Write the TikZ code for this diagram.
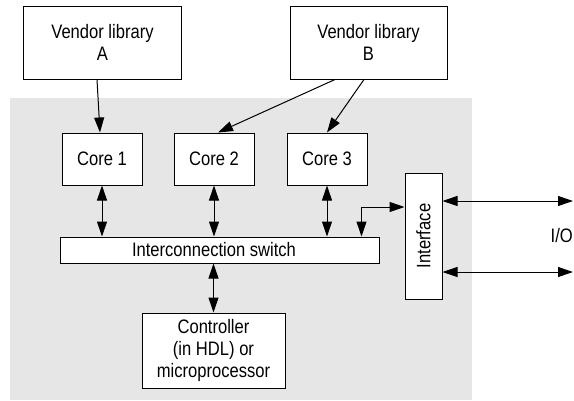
\documentclass[tikz,border=0pt]{standalone}
\usepackage{fontspec}
\setmainfont[FakeStretch=0.85]{Liberation Sans}
\usetikzlibrary{arrows.meta}
\definecolor{chipgray}{RGB}{230,230,230}
\tikzset{
  lbl/.style={font=\fontsize{19.5}{22}\selectfont},
  box/.style={draw, line width=1pt, fill=white, inner sep=0pt, align=center, lbl},
  arr/.style={line width=1pt, -{Triangle[length=15pt,width=10pt]}},
  biarr/.style={line width=1pt, {Triangle[length=15pt,width=10pt]}-{Triangle[length=15pt,width=10pt]}}
}
\begin{document}
\begin{tikzpicture}[x=1pt,y=-1pt]
\useasboundingbox (0,0) rectangle (574,400);
% chip area
\fill[chipgray] (10,98) rectangle (472,400);

% vendor libraries
\node[box, minimum width=157.5pt, minimum height=73pt] (va) at (102.5,42.5) {Vendor library\\A};
\node[box, minimum width=157pt, minimum height=73pt] (vb) at (368.5,42.5) {Vendor library\\B};

% cores
\node[box, minimum width=80pt, minimum height=52pt] (c1) at (102,159) {Core 1};
\node[box, minimum width=80pt, minimum height=52pt] (c2) at (214,159) {Core 2};
\node[box, minimum width=80pt, minimum height=52pt] (c3) at (327,159) {Core 3};

% switch, controller, interface
\node[box, minimum width=319pt, minimum height=26pt] (sw) at (219.5,250) {};
\node[lbl, inner sep=0pt] (swt) at (214,250) {Interconnection switch};
\node[box, minimum width=143pt, minimum height=75pt] (ctl) at (213.5,350.5) {Controller\\(in HDL) or\\microprocessor};
\node[box, minimum width=37pt, minimum height=126pt] (ifc) at (423.5,236) {};
\node[rotate=90, lbl, inner sep=0pt] (ift) at (ifc.center) {Interface};

% I/O ends
\coordinate (io1) at (573,201);
\coordinate (io2) at (573,272);
\node[anchor=east, lbl, inner sep=0pt] (io) at (573,236) {I/O};

% library links
\draw[arr] ([xshift=-5.5pt]va.south) -- ([xshift=-2pt]c1.north);
\draw[arr] ([xshift=-33.5pt]vb.south) -- ([xshift=4pt]c2.north);
\draw[arr] ([xshift=-4.5pt]vb.south) -- (c3.north);

% bus links
\draw[biarr] (c1.south) -- (c1.south |- sw.north);
\draw[biarr] (c2.south) -- (c2.south |- sw.north);
\draw[biarr] (c3.south) -- (c3.south |- sw.north);
\draw[biarr] (ctl.north |- sw.south) -- (ctl.north);
\draw[biarr] ([xshift=-18pt]sw.north east) |- ([yshift=29pt]ifc.west);

% external I/O
\draw[biarr] (ifc.east |- io1) -- (io1);
\draw[biarr] (ifc.east |- io2) -- (io2);
\end{tikzpicture}
\end{document}
